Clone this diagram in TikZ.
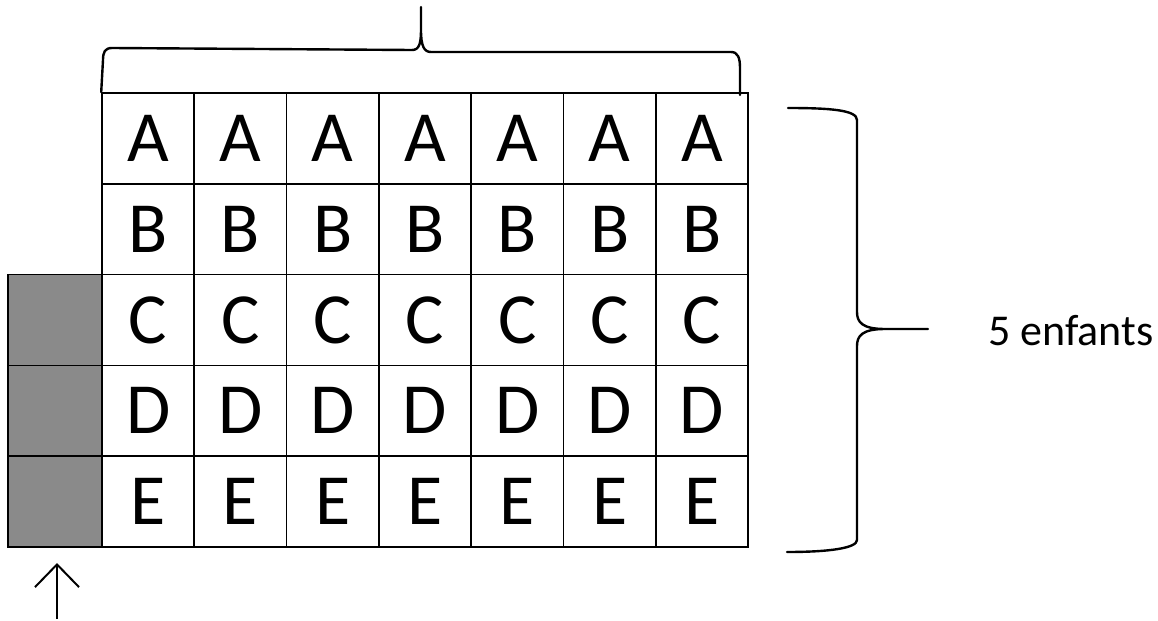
\documentclass[tikz,border=0pt]{standalone}
\usepackage{fontspec}
\setmainfont{Carlito}
\usetikzlibrary{arrows.meta}
\definecolor{shade}{RGB}{138,138,138}
\tikzset{
  cell/.style={draw, line width=1.2pt, minimum width=69.2pt, minimum height=68.1pt, inner sep=0pt, font=\fontsize{54}{54}\selectfont},
  graycell/.style={cell, fill=shade, minimum width=70.5pt},
  brace/.style={line width=1.8pt, line join=round, line cap=round},
  arr/.style={line width=1.5pt, -{Straight Barb[length=17pt,width=33pt,line width=1.5pt]}},
  lbl/.style={font=\fontsize{33}{33}\selectfont, inner sep=0pt}
}
\begin{document}
\begin{tikzpicture}[x=0.75pt,y=-0.75pt]
\useasboundingbox (0,0) rectangle (1158,621);
\foreach \r/\L in {1/A,2/B,3/C,4/D,5/E}{
  \foreach \c in {1,...,7}{
    \node[cell] (c\r\c) at ({102+92.3*(\c-0.5)},{93+90.8*(\r-0.5)}) {\L\hspace{6pt}};
  }
}
\foreach \r in {3,4,5}{
  \node[graycell] (g\r) at (55,{93+90.8*(\r-0.5)}) {};
}
% top brace
\coordinate (ttip) at (421,7);
\draw[brace] (c11.north west) -- (103,60) .. controls (103,52) and (105,48) .. (112,48)
  -- (412,50) .. controls (419,50) and (421,44) .. (421,30) -- (ttip)
  (421,30) .. controls (421,46) and (424,52) .. (431,52)
  -- (731,52) .. controls (738,52) and (740,58) .. (740,68) -- (740,95);
% right brace
\coordinate (rtip) at (928,329);
\draw[brace] (788,108) .. controls (830,108) and (857,110) .. (857,120)
  -- (857,312) .. controls (857,322) and (862,329) .. (885,329) -- (rtip)
  (885,329) .. controls (862,329) and (857,336) .. (857,346)
  -- (857,540) .. controls (857,548) and (830,552) .. (787,552);
\node[lbl, anchor=base west] (txt) at (988,345) {5 enfants};
% arrow
\coordinate (abot) at (57,619);
\coordinate (atop) at (57,563);
\draw[arr] (abot) -- (atop);
\end{tikzpicture}
\end{document}
